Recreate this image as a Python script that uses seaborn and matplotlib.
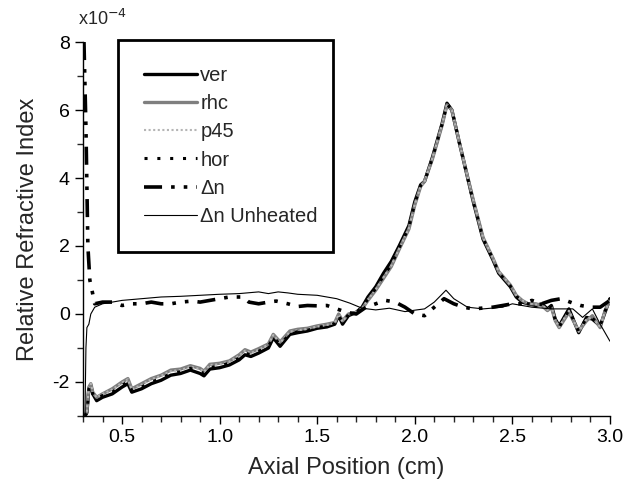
import numpy as np
import pandas as pd
import matplotlib
matplotlib.use("Agg")
import matplotlib.pyplot as plt
import seaborn as sns

# ---- data (values in units of 1e-4) ----
x_pol = [0.310, 0.320, 0.330, 0.340, 0.350, 0.370, 0.400, 0.450, 0.500, 0.530,
         0.550, 0.600, 0.650, 0.700, 0.750, 0.800, 0.850, 0.900, 0.920, 0.950,
         1.000, 1.050, 1.100, 1.130, 1.160, 1.200, 1.250, 1.275, 1.310, 1.360,
         1.400, 1.450, 1.500, 1.550, 1.590, 1.610, 1.630, 1.660, 1.700, 1.730,
         1.760, 1.800, 1.840, 1.880, 1.920, 1.970, 2.000, 2.030, 2.050, 2.090,
         2.140, 2.165, 2.190, 2.230, 2.300, 2.350, 2.400, 2.430, 2.490, 2.520,
         2.550, 2.580, 2.620, 2.650, 2.680, 2.700, 2.720, 2.740, 2.790, 2.840,
         2.880, 2.910, 2.950, 2.975, 3.000]

ver = [-3.00, -2.90, -2.20, -2.10, -2.35, -2.55, -2.45, -2.35, -2.15, -2.05,
       -2.30, -2.20, -2.05, -1.95, -1.80, -1.75, -1.65, -1.75, -1.82, -1.62,
       -1.58, -1.50, -1.35, -1.20, -1.25, -1.15, -1.00, -0.70, -0.95, -0.60,
       -0.55, -0.50, -0.42, -0.38, -0.30, -0.05, -0.30, -0.05, 0.05, 0.20,
       0.50, 0.80, 1.20, 1.55, 2.00, 2.60, 3.30, 3.80, 3.90, 4.60,
       5.60, 6.20, 6.00, 5.00, 3.30, 2.20, 1.60, 1.20, 0.80, 0.50,
       0.35, 0.30, 0.25, 0.30, 0.15, 0.25, -0.15, -0.35, 0.15, -0.55,
       -0.10, -0.15, -0.35, 0.05, 0.45]

rhc = [-3.00, -2.85, -2.15, -2.05, -2.30, -2.45, -2.35, -2.20, -2.00, -1.90,
       -2.20, -2.05, -1.90, -1.80, -1.65, -1.62, -1.52, -1.60, -1.68, -1.48,
       -1.45, -1.38, -1.20, -1.05, -1.12, -1.02, -0.88, -0.60, -0.82, -0.50,
       -0.45, -0.42, -0.35, -0.30, -0.25, 0.00, -0.20, 0.00, 0.05, 0.15,
       0.40, 0.70, 1.05, 1.40, 1.90, 2.50, 3.20, 3.75, 3.90, 4.55,
       5.55, 6.15, 6.00, 5.00, 3.35, 2.25, 1.65, 1.25, 0.85, 0.55,
       0.40, 0.30, 0.30, 0.25, 0.10, 0.20, -0.20, -0.40, 0.05, -0.50,
       -0.20, -0.05, -0.40, 0.10, 0.40]

p45 = [-3.00, -2.85, -2.15, -2.05, -2.30, -2.45, -2.35, -2.22, -2.02, -1.92,
       -2.22, -2.08, -1.92, -1.82, -1.68, -1.65, -1.55, -1.62, -1.70, -1.50,
       -1.48, -1.40, -1.22, -1.08, -1.15, -1.05, -0.90, -0.62, -0.85, -0.52,
       -0.48, -0.44, -0.37, -0.32, -0.26, -0.02, -0.22, 0.00, 0.05, 0.15,
       0.42, 0.72, 1.08, 1.42, 1.92, 2.52, 3.22, 3.75, 3.90, 4.58,
       5.58, 6.15, 6.00, 5.00, 3.35, 2.25, 1.65, 1.25, 0.85, 0.55,
       0.40, 0.32, 0.28, 0.28, 0.12, 0.22, -0.18, -0.38, 0.10, -0.52,
       -0.15, -0.10, -0.38, 0.08, 0.42]

hor = [-3.00, -2.90, -2.20, -2.10, -2.35, -2.50, -2.40, -2.30, -2.10, -2.00,
       -2.25, -2.15, -2.00, -1.90, -1.75, -1.70, -1.60, -1.70, -1.75, -1.58,
       -1.52, -1.45, -1.30, -1.15, -1.20, -1.10, -0.95, -0.68, -0.90, -0.58,
       -0.52, -0.48, -0.40, -0.35, -0.28, -0.05, -0.25, -0.02, 0.05, 0.18,
       0.45, 0.75, 1.12, 1.45, 1.95, 2.55, 3.25, 3.78, 3.90, 4.58,
       5.58, 6.18, 6.00, 5.00, 3.30, 2.22, 1.62, 1.22, 0.82, 0.52,
       0.38, 0.30, 0.28, 0.28, 0.12, 0.22, -0.18, -0.38, 0.12, -0.52,
       -0.12, -0.12, -0.35, 0.08, 0.45]

x_dn = [0.305, 0.315, 0.325, 0.335, 0.346, 0.360, 0.400, 0.450, 0.500, 0.550,
        0.600, 0.650, 0.700, 0.750, 0.800, 0.860, 0.900, 0.950, 1.000, 1.050,
        1.120, 1.150, 1.200, 1.250, 1.290, 1.350, 1.400, 1.450, 1.500, 1.550,
        1.600, 1.650, 1.700, 1.750, 1.800, 1.850, 1.900, 1.950, 2.000, 2.050,
        2.100, 2.150, 2.200, 2.250, 2.300, 2.400, 2.500, 2.550, 2.600, 2.650,
        2.700, 2.750, 2.810, 2.850, 2.900, 2.950, 3.000]
dn = [8.00, 5.50, 2.00, 1.00, 0.70, 0.30, 0.35, 0.35, 0.25, 0.30,
      0.30, 0.35, 0.30, 0.30, 0.35, 0.38, 0.35, 0.40, 0.45, 0.50,
      0.50, 0.35, 0.30, 0.35, 0.38, 0.30, 0.22, 0.25, 0.24, 0.25,
      0.15, 0.05, 0.00, 0.20, 0.30, 0.40, 0.35, 0.20, 0.00, -0.05,
      0.20, 0.45, 0.30, 0.20, 0.15, 0.20, 0.30, 0.30, 0.40, 0.30,
      0.40, 0.45, 0.32, 0.25, 0.20, 0.20, 0.40]

x_un = [0.310, 0.315, 0.320, 0.330, 0.340, 0.360, 0.400, 0.450, 0.500, 0.600,
        0.700, 0.800, 0.900, 1.000, 1.100, 1.200, 1.250, 1.300, 1.350, 1.400,
        1.500, 1.550, 1.600, 1.667, 1.730, 1.800, 1.870, 1.950, 2.010, 2.050,
        2.100, 2.160, 2.200, 2.270, 2.350, 2.450, 2.500, 2.600, 2.700, 2.810,
        2.860, 2.910, 2.950, 3.000]
un = [-3.00, -1.00, -0.40, -0.30, 0.00, 0.20, 0.30, 0.35, 0.40, 0.45,
      0.50, 0.52, 0.55, 0.58, 0.60, 0.65, 0.60, 0.65, 0.62, 0.58,
      0.55, 0.50, 0.45, 0.32, 0.17, 0.12, 0.17, 0.07, 0.12, 0.15,
      0.35, 0.70, 0.45, 0.20, 0.15, 0.20, 0.30, 0.20, 0.15, 0.15,
      -0.10, 0.15, -0.30, -0.80]

labels = ["ver", "rhc", "p45", "hor", "\u0394n", "\u0394n Unheated"]

# ---- style ----
sns.set_style("ticks")
plt.rcParams["font.family"] = ["Liberation Sans", "DejaVu Sans"]

fig = plt.figure(figsize=(6.36, 4.92), dpi=100)
ax = fig.add_axes([0.1305, 0.1545, 0.8285, 0.7601])

styles = [
    (x_pol, ver, dict(color="black", lw=2.4, ls="-")),
    (x_pol, rhc, dict(color="#7f7f7f", lw=2.4, ls="-")),
    (x_pol, p45, dict(color="#b5b5b5", lw=1.5, ls=(0, (1, 1.2)))),
    (x_pol, hor, dict(color="black", lw=2.2, ls=(0, (1, 3.2)))),
    (x_dn, dn, dict(color="black", lw=2.6, ls=(0, (5, 2.5, 1, 2.5, 1, 2.5)))),
    (x_un, un, dict(color="black", lw=0.8, ls="-")),
]
for (xs, ys, st), lab in zip(styles, labels):
    sns.lineplot(x=xs, y=ys, ax=ax, estimator=None, sort=False, label=lab, **st)

ax.set_xlim(0.3, 3.0)
ax.set_ylim(-3, 8)
ax.set_xticks([0.5, 1.0, 1.5, 2.0, 2.5, 3.0])
ax.set_xticklabels(["0.5", "1.0", "1.5", "2.0", "2.5", "3.0"])
ax.set_xticks(np.arange(0.3, 3.01, 0.1), minor=True)
ax.set_yticks([-2, 0, 2, 4, 6, 8])
ax.set_yticklabels(["-2", "0", "2", "4", "6", "8"])
ax.set_yticks([-3, -1, 1, 3, 5, 7], minor=True)
ax.tick_params(axis="both", which="major", direction="out", length=6, width=1,
               labelsize=14, colors="black")
ax.tick_params(axis="both", which="minor", direction="out", length=4, width=1)
for s in ["top", "right"]:
    ax.spines[s].set_visible(False)
for s in ["left", "bottom"]:
    ax.spines[s].set_linewidth(1.0)
    ax.spines[s].set_color("black")

ax.set_xlabel("Axial Position (cm)", fontsize=17, labelpad=8)
ax.set_ylabel("Relative Refractive Index", fontsize=17, labelpad=10)

fig.text(0.122, 0.962, r"x10$^{-4}$", fontsize=13, ha="left", va="center")

leg = ax.legend(loc="upper left", bbox_to_anchor=(0.066, 1.005, 0.408, 0.0),
                mode="expand", fontsize=14.5, frameon=True, fancybox=False,
                edgecolor="black", framealpha=1, borderpad=1.3,
                labelspacing=0.45, handlelength=2.65, handletextpad=0.15,
                borderaxespad=0)
leg.get_frame().set_linewidth(2.0)

fig.savefig("out.png", dpi=100)
